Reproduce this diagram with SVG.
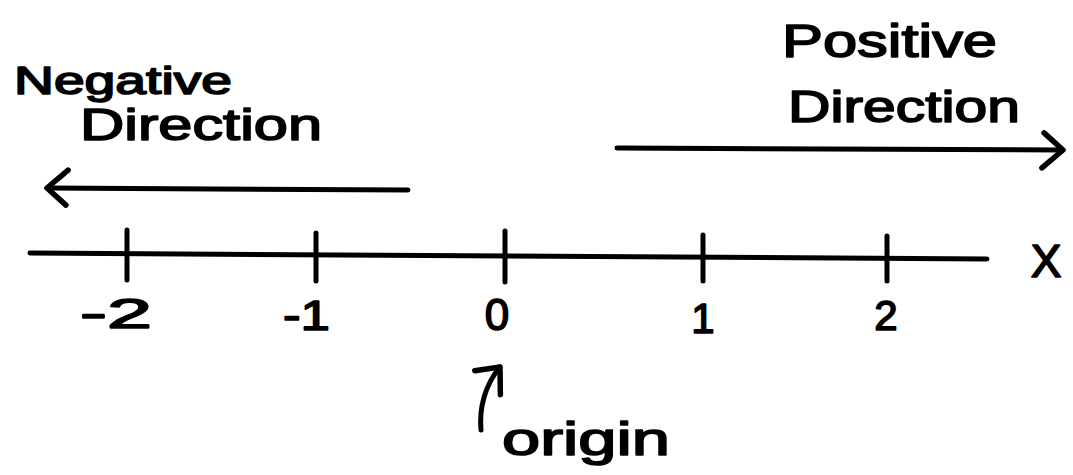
<svg xmlns="http://www.w3.org/2000/svg" width="1073" height="475" viewBox="0 0 1073 475">
<style>
.ln{fill:none;stroke:#000;stroke-width:5;stroke-linecap:round;stroke-linejoin:round}
.tx{font-family:"Liberation Sans",Arial,sans-serif;font-weight:400;fill:#000;stroke:#000;stroke-width:1.6;stroke-linejoin:round}
</style>
<defs>
<marker id="chev" markerUnits="userSpaceOnUse" markerWidth="40" markerHeight="40" refX="0" refY="0" viewBox="-25 -20 30 40" orient="auto" overflow="visible">
<path d="M-19,-17 L0,0 L-21,18" fill="none" stroke="#000" stroke-width="5.5" stroke-linecap="round" stroke-linejoin="round"/>
</marker>
</defs>
<rect width="1073" height="475" fill="#fff"/>
<g id="axis">
<path class="ln" d="M30,253 L987,259"/>
<text class="tx" x="1046" y="277" font-size="46" text-anchor="middle">X</text>
</g>
<g id="tick-neg2">
<path class="ln" d="M127,230 L127,280"/>
<text class="tx" x="80" y="328" font-size="42" textLength="72" lengthAdjust="spacingAndGlyphs">-2</text>
</g>
<g id="tick-neg1">
<path class="ln" d="M316,233 L316,281"/>
<text class="tx" x="283" y="330" font-size="42" textLength="47" lengthAdjust="spacingAndGlyphs">-1</text>
</g>
<g id="tick-0">
<path class="ln" d="M505,231 L505,282"/>
<text class="tx" x="497" y="330" font-size="44" text-anchor="middle">0</text>
</g>
<g id="tick-1">
<path class="ln" d="M703,235 L703,281"/>
<text class="tx" x="703" y="333" font-size="42" text-anchor="middle">1</text>
</g>
<g id="tick-2">
<path class="ln" d="M887,236 L887,281"/>
<text class="tx" x="886" y="330" font-size="42" text-anchor="middle">2</text>
</g>
<g id="negative-label">
<text class="tx" x="14" y="94" font-size="38" textLength="218" lengthAdjust="spacingAndGlyphs">Negative</text>
<text class="tx" x="80" y="140" font-size="44" textLength="242" lengthAdjust="spacingAndGlyphs">Direction</text>
</g>
<g id="positive-label">
<text class="tx" x="782" y="57" font-size="46" textLength="215" lengthAdjust="spacingAndGlyphs">Positive</text>
<text class="tx" x="788" y="122" font-size="44" textLength="232" lengthAdjust="spacingAndGlyphs">Direction</text>
</g>
<g id="origin-label">
<text class="tx" x="502" y="455" font-size="46" textLength="168" lengthAdjust="spacingAndGlyphs">origin</text>
</g>
<g id="connectors">
<path class="ln" d="M408,190 L47,188" marker-end="url(#chev)"/>
<path class="ln" d="M617,148 L1063,150" marker-end="url(#chev)"/>
<path class="ln" d="M481,430 C479,408 485,385 500,367" marker-end="url(#chev)"/>
</g>
</svg>
